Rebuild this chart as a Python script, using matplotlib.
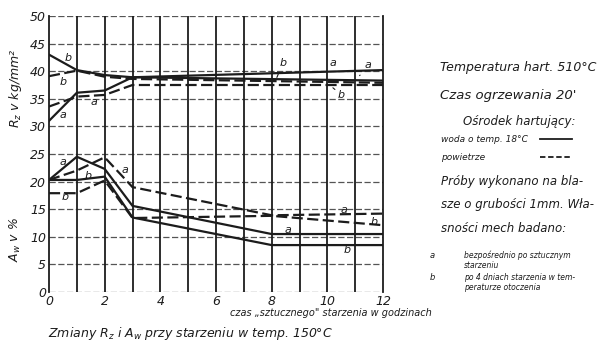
import numpy as np
import matplotlib.pyplot as plt
from matplotlib.lines import Line2D

plt.rcParams['font.family'] = ['DejaVu Sans']
plt.rcParams['font.style'] = 'italic'
plt.rcParams['mathtext.fontset'] = 'dejavusans'

# czas starzenia [h]
x_r = [0, 1, 2, 3, 12]
x_a = [0, 1, 2, 3, 8, 12]

# R_z [kg/mm2]
rz_a_woda = [31.0, 36.1, 36.5, 38.9, 40.2]
rz_b_woda = [43.0, 40.2, 39.3, 38.9, 38.3]
rz_a_pow = [33.6, 35.4, 35.7, 37.5, 37.5]
rz_b_pow = [39.1, 40.1, 39.0, 38.6, 37.9]

# A_w [%]
aw_a_woda = [20.3, 24.5, 22.3, 15.6, 10.5, 10.5]
aw_b_woda = [20.3, 20.3, 20.9, 13.5, 8.5, 8.5]
aw_a_pow = [20.3, 22.0, 24.4, 19.0, 13.9, 14.2]
aw_b_pow = [17.9, 17.9, 20.2, 13.4, 13.8, 12.1]

yticks = list(range(0, 55, 5))
xticks = list(range(0, 13, 2))

ink = '#1c1c1c'
W, H = 614, 349

fig = plt.figure(figsize=(W / 100, H / 100), dpi=100)
ax = fig.add_axes([49 / W, 1 - 292 / H, 334 / W, 276 / H])

# siatka
for y in yticks:
    ax.axhline(y, color='#555555', lw=0.9, ls=(0, (5, 2)), zorder=1)
for x in range(1, 12):
    ax.axvline(x, color=ink, lw=1.3, zorder=1)

lw = 1.6
ax.plot(x_r, rz_a_woda, color=ink, lw=lw, zorder=3)
ax.plot(x_r, rz_b_woda, color=ink, lw=lw, zorder=3)
ax.plot(x_r, rz_a_pow, color=ink, lw=lw, ls=(0, (5, 2)), zorder=3)
ax.plot(x_r, rz_b_pow, color=ink, lw=lw, ls=(0, (5, 2)), zorder=3)
ax.plot(x_a, aw_a_woda, color=ink, lw=lw, zorder=3)
ax.plot(x_a, aw_b_woda, color=ink, lw=lw, zorder=3)
ax.plot(x_a, aw_a_pow, color=ink, lw=lw, ls=(0, (5, 2)), zorder=3)
ax.plot(x_a, aw_b_pow, color=ink, lw=lw, ls=(0, (5, 2)), zorder=3)

# oznaczenia krzywych
lab = dict(fontsize=8, color=ink, ha='center', va='center', zorder=4)
for tx, ty, s in [(0.68, 42.4, 'b'), (0.5, 38.0, 'b'), (0.5, 32.0, 'a'), (1.6, 34.4, 'a'),
                  (10.2, 41.5, 'a'),
                  (0.5, 23.6, 'a'), (1.4, 21.0, 'b'), (0.58, 17.2, 'b'), (2.74, 22.1, 'a'),
                  (10.6, 14.9, 'a'), (11.7, 12.7, 'b'), (8.6, 11.2, 'a'), (10.7, 7.6, 'b')]:
    ax.text(tx, ty, s, **lab)
for tx, ty, px, py, s in [(8.4, 41.5, 8.15, 38.4, 'b'), (11.45, 41.1, 11.1, 38.8, 'a'),
                          (10.5, 35.7, 10.2, 37.0, 'b')]:
    ax.annotate(s, xy=(px, py), xytext=(tx, ty), fontsize=8, color=ink, ha='center',
                va='center', arrowprops=dict(arrowstyle='-', color=ink, lw=0.8), zorder=4)

ax.set_xlim(0, 12)
ax.set_ylim(0, 50)
ax.set_yticks(yticks)
ax.set_yticklabels([str(v) for v in yticks], fontsize=9, color=ink)
ax.set_xticks(xticks)
ax.set_xticklabels([str(v) for v in xticks], fontsize=9, color=ink)
ax.tick_params(length=0, pad=2)
ax.spines['top'].set_visible(False)
ax.spines['bottom'].set_visible(False)
ax.spines['left'].set_color(ink)
ax.spines['right'].set_color(ink)
ax.spines['left'].set_linewidth(1.3)
ax.spines['right'].set_linewidth(1.3)

fig.text(15 / W, 1 - 88 / H, '$R_z$ v kg/mm²', rotation=90, ha='center', va='center',
         fontsize=9, color=ink)
fig.text(15 / W, 1 - 240 / H, '$A_w$ v %', rotation=90, ha='center', va='center',
         fontsize=9, color=ink)
fig.text(432 / W, 1 - 313 / H, 'czas „sztucznego" starzenia w godzinach', ha='right',
         va='center', fontsize=7, color=ink)
fig.text(48 / W, 1 - 333 / H, 'Zmiany $R_z$ i $A_w$ przy starzeniu w temp. 150°C',
         ha='left', va='center', fontsize=9, color=ink)

# opis z prawej strony
def note(x, y, s, size):
    fig.text(x / W, 1 - y / H, s, ha='left', va='center', fontsize=size, color=ink)

note(440, 67, 'Temperatura hart. 510°C', 9)
note(440, 95, "Czas ogrzewania 20'", 9.5)
note(463, 122, 'Ośrodek hartujący:', 8.5)
note(441, 139, 'woda o temp. 18°C', 6.5)
note(441, 157, 'powietrze', 6.5)
note(441, 181, 'Próby wykonano na bla-', 8.5)
note(441, 204, 'sze o grubości 1mm. Wła-', 8.5)
note(441, 228, 'sności mech badano:', 8.5)
note(430, 255, 'a', 6)
note(464, 255, 'bezpośrednio po sztucznym', 5.5)
note(464, 266, 'starzeniu', 5.5)
note(430, 277, 'b', 6)
note(464, 277, 'po 4 dniach starzenia w tem-', 5.5)
note(464, 288, 'peraturze otoczenia', 5.5)

fig.add_artist(Line2D([540 / W, 572 / W], [1 - 139 / H, 1 - 139 / H], color=ink, lw=1.3))
fig.add_artist(Line2D([540 / W, 572 / W], [1 - 157 / H, 1 - 157 / H], color=ink, lw=1.3,
                      ls=(0, (3, 1.5))))

fig.savefig('out.png', dpi=100)
